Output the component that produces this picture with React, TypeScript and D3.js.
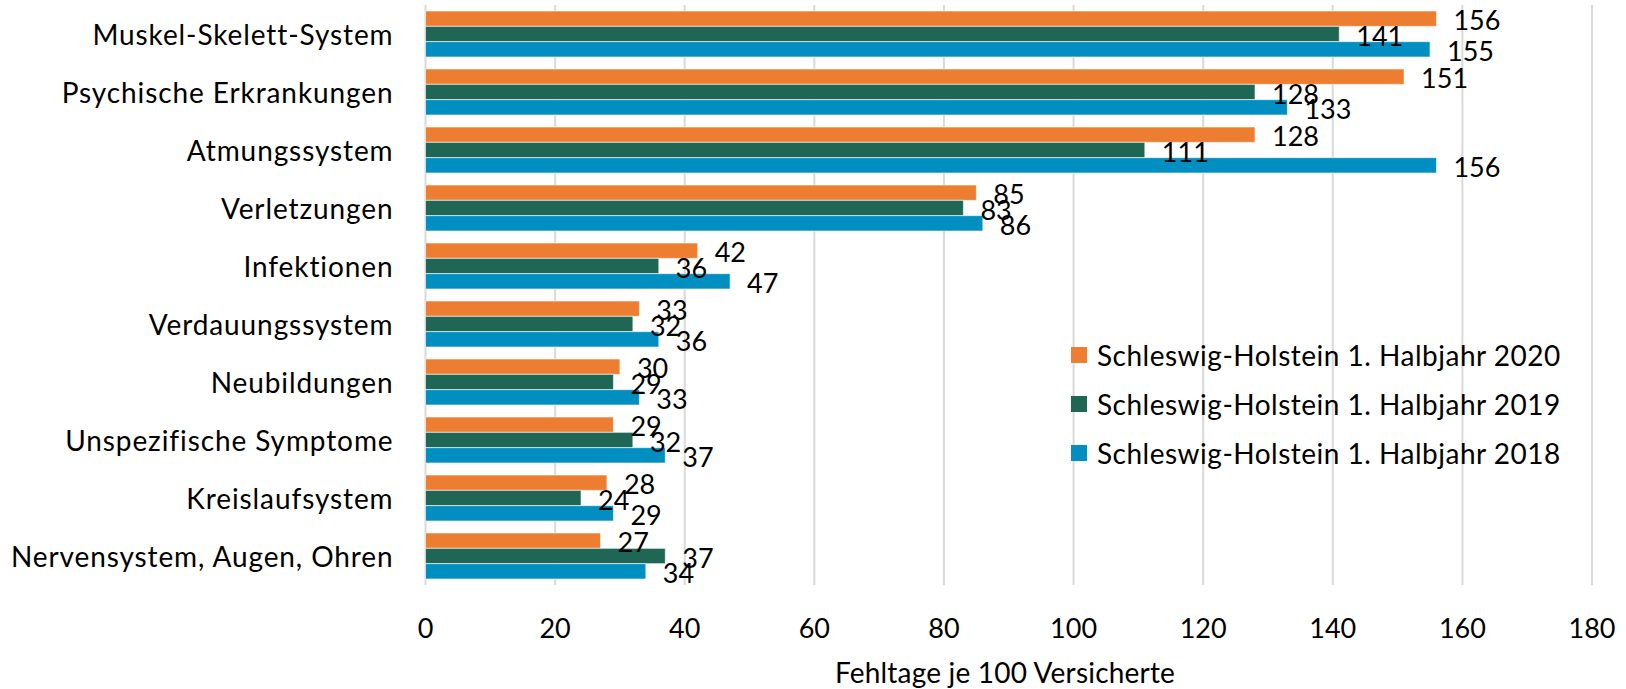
import React from "react";
import * as d3 from "d3";

const categories = [
  "Muskel-Skelett-System",
  "Psychische Erkrankungen",
  "Atmungssystem",
  "Verletzungen",
  "Infektionen",
  "Verdauungssystem",
  "Neubildungen",
  "Unspezifische Symptome",
  "Kreislaufsystem",
  "Nervensystem, Augen, Ohren",
];
const seriesNames = [
  "Schleswig-Holstein 1. Halbjahr 2020",
  "Schleswig-Holstein 1. Halbjahr 2019",
  "Schleswig-Holstein 1. Halbjahr 2018",
];
const values2020 = [156, 151, 128, 85, 42, 33, 30, 29, 28, 27];
const values2019 = [141, 128, 111, 83, 36, 32, 29, 32, 24, 37];
const values2018 = [155, 133, 156, 86, 47, 36, 33, 37, 29, 34];
const xTicks = [0, 20, 40, 60, 80, 100, 120, 140, 160, 180];
const colors = ["#ED7D31", "#1F6655", "#008FC0"];
const axisTitle = "Fehltage je 100 Versicherte";

const W = 1626;
const H = 689;
const FONT = "Lato, 'Open Sans', sans-serif";
const FS = 27;
const FS_TXT = 28;

export default function App() {
  const series = [values2020, values2019, values2018];
  const x = d3.scaleLinear().domain([0, 180]).range([425.5, 1592]);
  const y = d3
    .scaleBand<string>()
    .domain(categories)
    .range([5, 585])
    .paddingInner(0.207)
    .paddingOuter(0.1035);
  const sub = d3
    .scaleBand<number>()
    .domain([0, 1, 2])
    .range([0, y.bandwidth()]);

  return (
    <svg
      width={W}
      height={H}
      style={{ position: "absolute", left: 0, top: 0, background: "#fff" }}
      fontFamily={FONT}
    >
      {xTicks.map((t) => (
        <line
          key={"g" + t}
          x1={x(t)}
          x2={x(t)}
          y1={5}
          y2={585}
          stroke="#D9D9D9"
          strokeWidth={2}
        />
      ))}
      {categories.map((c, i) => (
        <g key={c}>
          {series.map((s, k) => (
            <rect
              key={k}
              x={x(0)}
              y={(y(c) as number) + (sub(k) as number)}
              width={x(s[i]) - x(0)}
              height={sub.bandwidth()}
              fill={colors[k]}
              stroke="#ffffff"
              strokeOpacity={0.6}
              strokeWidth={1}
            />
          ))}
          <text
            x={x(0) - 32}
            y={(y(c) as number) + y.bandwidth() / 2}
            textAnchor="end"
            dominantBaseline="central"
            fontSize={FS_TXT}
            letterSpacing={0.9}
            fill="#000"
          >
            {c}
          </text>
        </g>
      ))}
      {categories.map((c, i) =>
        series.map((s, k) => (
          <text
            key={c + k}
            x={x(s[i]) + 17}
            y={(y(c) as number) + (sub(k) as number) + sub.bandwidth() / 2 + 1}
            dominantBaseline="central"
            fontSize={FS}
            fill="#000"
          >
            {s[i]}
          </text>
        ))
      )}
      {xTicks.map((t) => (
        <text
          key={"t" + t}
          x={x(t)}
          y={627}
          textAnchor="middle"
          dominantBaseline="central"
          fontSize={FS}
          fill="#000"
        >
          {t}
        </text>
      ))}
      <text
        x={1005}
        y={672}
        textAnchor="middle"
        dominantBaseline="central"
        fontSize={FS_TXT}
        letterSpacing={0.2}
        fill="#000"
      >
        {axisTitle}
      </text>
      {seriesNames.map((n, k) => (
        <g key={n} transform={`translate(1071, ${355 + k * 49})`}>
          <rect x={0} y={-8} width={16} height={16} fill={colors[k]} />
          <text
            x={26}
            y={0}
            dominantBaseline="central"
            fontSize={FS_TXT}
            letterSpacing={0.5}
            fill="#000"
          >
            {n}
          </text>
        </g>
      ))}
    </svg>
  );
}
